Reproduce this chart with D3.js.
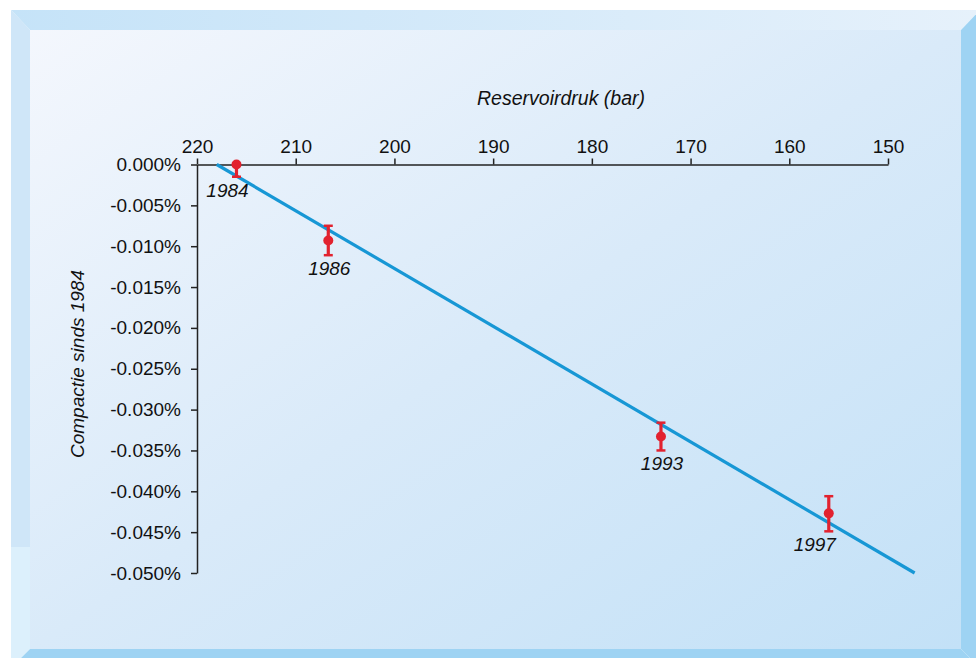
<!DOCTYPE html>
<html>
<head>
<meta charset="utf-8">
<script src="https://cdn.jsdelivr.net/npm/d3@7"></script>
<style>
  body { margin: 0; background: #fff; }
  svg { display: block; font-family: "Liberation Sans", Arial, sans-serif; }
  .axis text { font-size: 19px; fill: #111; }
  .axis path, .axis line { stroke: #222; stroke-width: 1.5; }
</style>
</head>
<body>
<div id="chart"></div>
<script>
// reservoir pressure (bar) and compaction since 1984 (%)
const years = ["1984", "1986", "1993", "1997"];
const pressure = [216.0, 206.7, 173.0, 156.0];
const compaction = [0.0, -0.0093, -0.0333, -0.0427];
const errHigh = [0.0, -0.0075, -0.0316, -0.0406];
const errLow = [-0.0015, -0.0111, -0.0350, -0.0449];

// fitted trend line
const trendPressure = [218.0, 147.3];
const trendCompaction = [0.0, -0.05];

const xTicks = [220, 210, 200, 190, 180, 170, 160, 150];
const yTicks = [0, -0.005, -0.01, -0.015, -0.02, -0.025, -0.03, -0.035, -0.04, -0.045, -0.05];
const yTickLabels = ["0.000%", "-0.005%", "-0.010%", "-0.015%", "-0.020%", "-0.025%",
    "-0.030%", "-0.035%", "-0.040%", "-0.045%", "-0.050%"];

const labelShift = [-9, 1, 1, -14]; // nudge year labels sideways

function init() {
    const W = 976, H = 658;
    const svg = d3.select("#chart").append("svg")
        .attr("width", W)
        .attr("height", H);

    const defs = svg.append("defs");
    const bg = defs.append("linearGradient")
        .attr("id", "panelGrad")
        .attr("x1", 0).attr("y1", 0).attr("x2", 1).attr("y2", 1);
    bg.append("stop").attr("offset", 0).attr("stop-color", "#f4f7fd");
    bg.append("stop").attr("offset", 0.5).attr("stop-color", "#d9eaf9");
    bg.append("stop").attr("offset", 1).attr("stop-color", "#c3e1f7");

    const topGrad = defs.append("linearGradient")
        .attr("id", "topGrad")
        .attr("x1", 0).attr("y1", 0).attr("x2", 1).attr("y2", 0);
    topGrad.append("stop").attr("offset", 0).attr("stop-color", "#c5e3f8");
    topGrad.append("stop").attr("offset", 1).attr("stop-color", "#e6f1fb");

    // frame (bevelled border)
    const o = { x0: 11, y0: 10, x1: 980, y1: 668 };
    const i = { x0: 30, y0: 30, x1: 961, y1: 649 };

    svg.append("rect")
        .attr("x", i.x0).attr("y", i.y0)
        .attr("width", i.x1 - i.x0).attr("height", i.y1 - i.y0)
        .attr("fill", "url(#panelGrad)");

    const poly = pts => pts.map(p => p.join(",")).join(" ");
    svg.append("polygon")
        .attr("points", poly([[o.x0, o.y0], [o.x1, o.y0], [i.x1, i.y0], [i.x0, i.y0]]))
        .attr("fill", "url(#topGrad)");
    svg.append("polygon")
        .attr("points", poly([[o.x0, o.y0], [i.x0, i.y0], [i.x0, i.y1], [o.x0, o.y1]]))
        .attr("fill", "#dcf0fc");
    svg.append("polygon")
        .attr("points", poly([[o.x0, o.y0], [i.x0, i.y0], [i.x0, 547], [o.x0, 547]]))
        .attr("fill", "#cfe6f8");
    svg.append("polygon")
        .attr("points", poly([[o.x1, o.y0], [o.x1, o.y1], [i.x1, i.y1], [i.x1, i.y0]]))
        .attr("fill", "#9ed3f3");
    svg.append("polygon")
        .attr("points", poly([[o.x0, o.y1], [i.x0, i.y1], [i.x1, i.y1], [o.x1, o.y1]]))
        .attr("fill", "#9ed3f3");

    // scales
    const x = d3.scaleLinear().domain([220, 150]).range([197, 888]);
    const y = d3.scaleLinear().domain([0, -0.05]).range([164.5, 573]);

    // axes
    svg.append("g")
        .attr("class", "axis")
        .attr("transform", `translate(0, ${y(0)})`)
        .call(d3.axisTop(x).tickValues(xTicks).tickSize(6).tickSizeOuter(0).tickPadding(6));

    svg.append("g")
        .attr("class", "axis")
        .attr("transform", `translate(${x(220)}, 0)`)
        .call(d3.axisLeft(y).tickValues(yTicks).tickSize(6).tickSizeOuter(0).tickPadding(10)
            .tickFormat((d, k) => yTickLabels[k]));

    svg.selectAll(".axis text").attr("fill", "#111");

    // axis titles
    svg.append("text")
        .attr("x", 561)
        .attr("y", 105)
        .attr("text-anchor", "middle")
        .style("font-size", "19.5px")
        .style("font-style", "italic")
        .attr("fill", "#111")
        .text("Reservoirdruk (bar)");

    svg.append("text")
        .attr("transform", "translate(84, 364) rotate(-90)")
        .attr("text-anchor", "middle")
        .style("font-size", "19px")
        .style("font-style", "italic")
        .attr("fill", "#111")
        .text("Compactie sinds 1984");

    // trend line
    const trend = trendPressure.map((p, k) => [p, trendCompaction[k]]);
    svg.append("path")
        .datum(trend)
        .attr("fill", "none")
        .attr("stroke", "#1797d5")
        .attr("stroke-width", 3.2)
        .attr("d", d3.line().x(d => x(d[0])).y(d => y(d[1])));

    // measurements with error bars
    const pts = years.map((yr, k) => ({
        year: yr, p: pressure[k], v: compaction[k], hi: errHigh[k], lo: errLow[k], shift: labelShift[k]
    }));
    const red = "#e2222f";
    const g = svg.append("g");

    g.selectAll(".err")
        .data(pts)
        .join("line")
        .attr("class", "err")
        .attr("x1", d => x(d.p)).attr("x2", d => x(d.p))
        .attr("y1", d => y(d.hi)).attr("y2", d => y(d.lo))
        .attr("stroke", red)
        .attr("stroke-width", 3.2);

    g.selectAll(".capLo")
        .data(pts)
        .join("line")
        .attr("class", "capLo")
        .attr("x1", d => x(d.p) - 4.5).attr("x2", d => x(d.p) + 4.5)
        .attr("y1", d => y(d.lo)).attr("y2", d => y(d.lo))
        .attr("stroke", red)
        .attr("stroke-width", 2.5);

    g.selectAll(".capHi")
        .data(pts.filter(d => d.hi !== d.v))
        .join("line")
        .attr("class", "capHi")
        .attr("x1", d => x(d.p) - 4.5).attr("x2", d => x(d.p) + 4.5)
        .attr("y1", d => y(d.hi)).attr("y2", d => y(d.hi))
        .attr("stroke", red)
        .attr("stroke-width", 2.5);

    g.selectAll(".dot")
        .data(pts)
        .join("circle")
        .attr("class", "dot")
        .attr("cx", d => x(d.p))
        .attr("cy", d => y(d.v))
        .attr("r", 5)
        .attr("fill", red);

    g.selectAll(".yr")
        .data(pts)
        .join("text")
        .attr("class", "yr")
        .attr("x", d => x(d.p) + d.shift)
        .attr("y", d => y(d.lo) + 20)
        .attr("text-anchor", "middle")
        .style("font-size", "19px")
        .style("font-style", "italic")
        .attr("fill", "#111")
        .text(d => d.year);
}

document.addEventListener("DOMContentLoaded", init);
</script>
</body>
</html>
